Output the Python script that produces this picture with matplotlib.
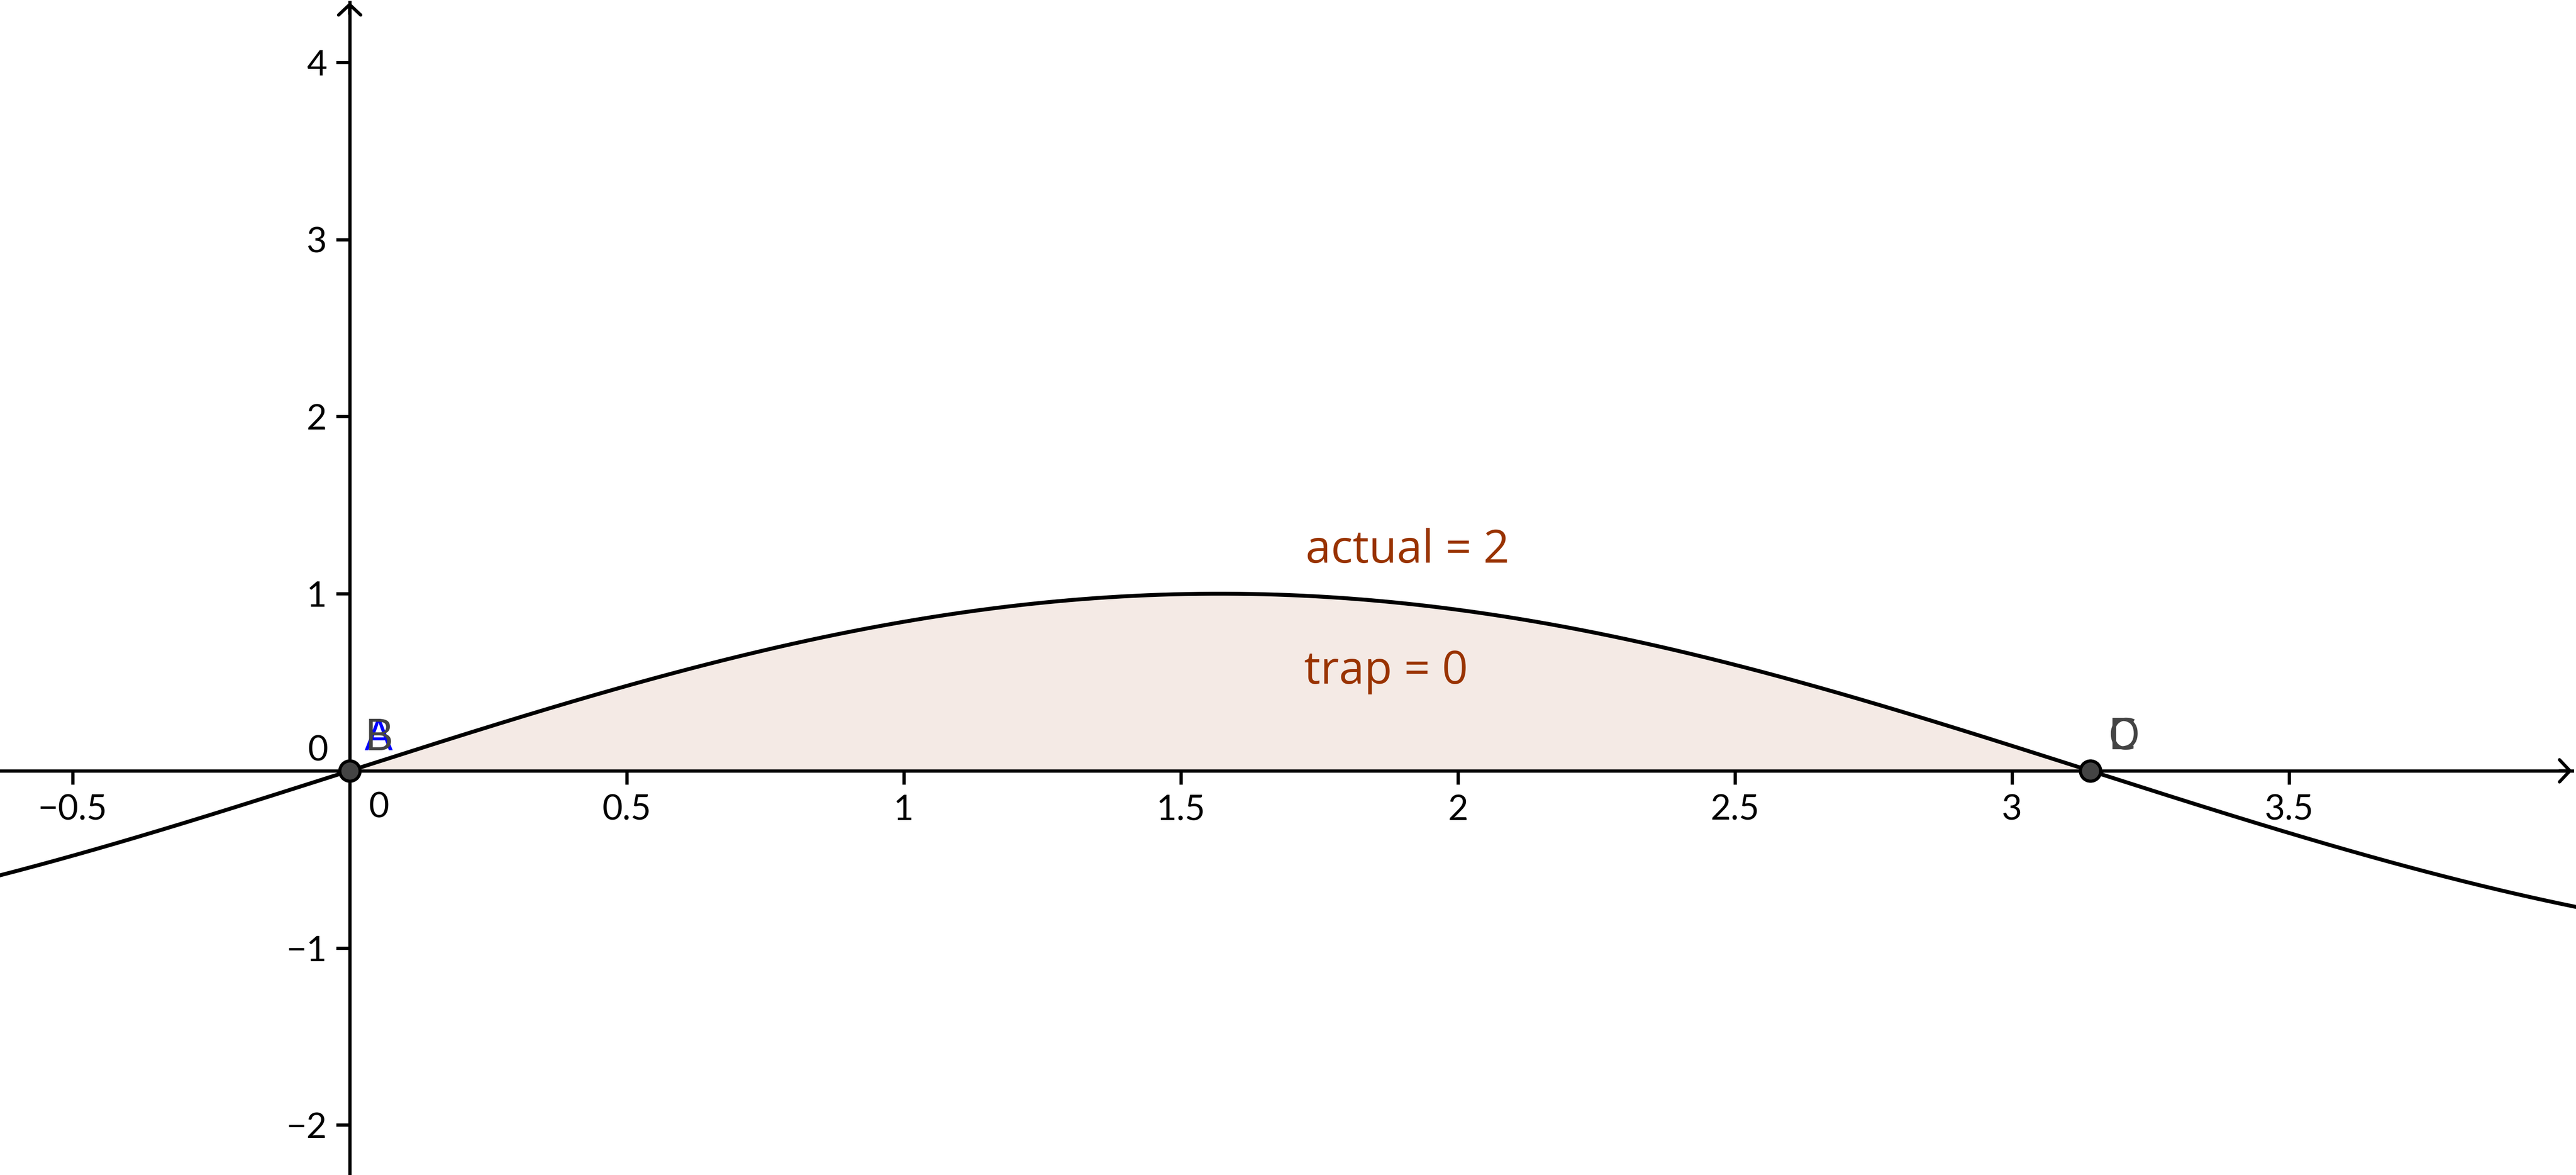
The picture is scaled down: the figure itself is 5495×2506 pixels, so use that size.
import numpy as np
import matplotlib
matplotlib.use('Agg')
import matplotlib.pyplot as plt
from matplotlib.patches import ArrowStyle

# view window (data units)
xRange = [-0.631, 4.018]
yRange = [-2.282, 4.352]

# tick values / labels
xTicks = [-0.5, 0.5, 1, 1.5, 2, 2.5, 3, 3.5]
xTickLabels = ['\u22120.5', '0.5', '1', '1.5', '2', '2.5', '3', '3.5']
yTicks = [-2, -1, 1, 2, 3, 4]
yTickLabels = ['\u22122', '\u22121', '1', '2', '3', '4']

# graphed function and integral bounds
f = np.sin
lower, upper = 0, np.pi

# points
pointNames = ['A', 'B', 'C', 'D']
pointX = [0, 0, np.pi, np.pi]
pointY = [0, 0, 0, 0]
pointColors = ['#0000ff', '#444444', '#444444', '#444444']

# text boxes
texts = ['actual = 2', 'trap = 0']
textX = [1.725, 1.723]
textY = [1.175, 0.492]

brown = '#993300'

plt.rcParams['font.family'] = ['Lato', 'DejaVu Sans']

fig = plt.figure(figsize=(54.95, 25.06), dpi=100)
ax = fig.add_axes([0, 0, 1, 1])
ax.set_xlim(*xRange)
ax.set_ylim(*yRange)

# where the arrow tips sit (fraction of the axes)
xTip, yTip = 0.9985, 0.998

for side in ['top', 'right']:
    ax.spines[side].set_visible(False)
for side in ['left', 'bottom']:
    ax.spines[side].set_position(('data', 0))
    ax.spines[side].set_linewidth(5)
    ax.spines[side].set_zorder(3)
ax.spines['left'].set_bounds(yRange[0], yRange[0] + yTip * (yRange[1] - yRange[0]))
ax.spines['bottom'].set_bounds(xRange[0], xRange[0] + xTip * (xRange[1] - xRange[0]))

ax.set_xticks(xTicks)
ax.set_xticklabels(xTickLabels)
ax.set_yticks(yTicks)
ax.set_yticklabels(yTickLabels)
ax.tick_params(direction='out', length=21, width=5, labelsize=54, pad=14)

# zero labels sit off the origin, like GeoGebra does
ax.annotate('0', xy=(0, 0), xytext=(45, -56), textcoords='offset points',
            ha='center', va='center', fontsize=54)
ax.annotate('0', xy=(0, 0), xytext=(-33, 31), textcoords='offset points',
            ha='right', va='center', fontsize=54)

# axis arrowheads
head = ArrowStyle('->', head_length=16, head_width=17)
ax.annotate('', xy=(0, yTip), xycoords=('data', 'axes fraction'),
            xytext=(0, yTip - 0.01), textcoords=('data', 'axes fraction'),
            arrowprops=dict(arrowstyle=head, lw=5, color='black', mutation_scale=1,
                            shrinkA=0, shrinkB=0), zorder=3)
ax.annotate('', xy=(xTip, 0), xycoords=('axes fraction', 'data'),
            xytext=(xTip - 0.005, 0), textcoords=('axes fraction', 'data'),
            arrowprops=dict(arrowstyle=head, lw=5, color='black', mutation_scale=1,
                            shrinkA=0, shrinkB=0), zorder=3)

# shaded integral
xs = np.linspace(lower, upper, 400)
ax.fill_between(xs, 0, f(xs), facecolor=brown, alpha=0.1, zorder=1)
ax.fill_between(xs, 0, f(xs), facecolor='none', edgecolor=brown, linewidth=1.5, zorder=1)

# curve
xc = np.linspace(xRange[0], xRange[1], 1000)
ax.plot(xc, f(xc), color='black', linewidth=6, zorder=4)

# points
ax.plot(pointX, pointY, 'o', markersize=31, markerfacecolor='#444444',
        markeredgecolor='black', markeredgewidth=4.7, zorder=5, clip_on=False)

offsets = [(23, 32), (23, 32), (27, 33), (27, 33)]
for name, px, py, c, off in zip(pointNames, pointX, pointY, pointColors, offsets):
    ax.annotate(name, xy=(px, py), xytext=off, textcoords='offset points',
                ha='left', va='baseline', fontsize=68, color=c, zorder=6,
                family=['Open Sans', 'DejaVu Sans'])

for t, tx, ty in zip(texts, textX, textY):
    ax.text(tx, ty, t, ha='left', va='baseline', fontsize=70, color=brown, zorder=6,
            family=['Open Sans', 'DejaVu Sans'])

fig.savefig('out.png', dpi=100)
